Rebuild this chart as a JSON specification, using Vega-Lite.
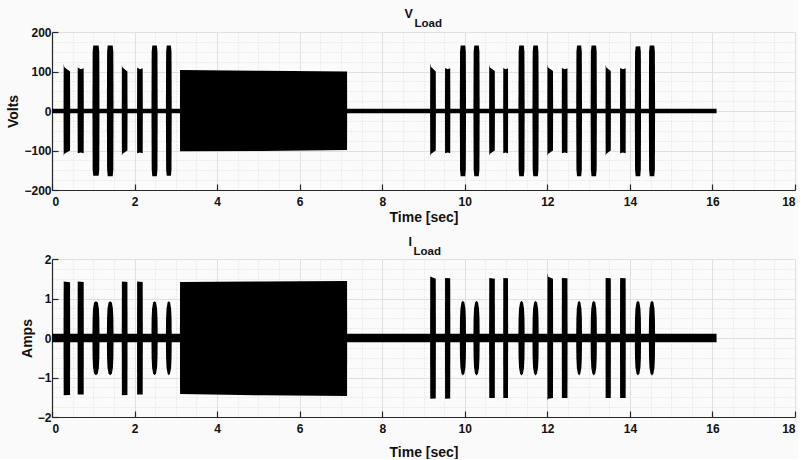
{
  "$schema": "https://vega.github.io/schema/vega-lite/v6.json",
  "background": "#fafafa",
  "padding": {"left": 6, "top": 7, "right": 2, "bottom": 0},
  "spacing": 11,
  "config": {
    "view": {"stroke": null, "fill": "#fbfbfb"},
    "font": "Liberation Sans",
    "axis": {
      "labelFont": "Liberation Sans", "labelFontWeight": "bold", "labelFontSize": 12, "labelColor": "#111111",
      "titleFont": "Liberation Sans", "titleFontWeight": "bold", "titleFontSize": 14, "titleColor": "#111111"
    }
  },
  "datasets": {
    "V": [
      {"id": "base", "t": 0, "hi": 6, "lo": -6}, {"id": "base", "t": 16.1, "hi": 6, "lo": -6},
      {"id": "blk", "t": 3.1, "hi": 6, "lo": -6}, {"id": "blk", "t": 3.102, "hi": 104, "lo": -102}, {"id": "blk", "t": 5.1, "hi": 102, "lo": -101}, {"id": "blk", "t": 7.148, "hi": 100, "lo": -99}, {"id": "blk", "t": 7.15, "hi": 6, "lo": -6},
      {"id": "b1", "t": 0.28, "hi": 6, "lo": -6}, {"id": "b1", "t": 0.283, "hi": 119, "lo": -113}, {"id": "b1", "t": 0.3, "hi": 111, "lo": -108}, {"id": "b1", "t": 0.437, "hi": 100, "lo": -100}, {"id": "b1", "t": 0.44, "hi": 6, "lo": -6},
      {"id": "b2", "t": 0.62, "hi": 6, "lo": -6}, {"id": "b2", "t": 0.623, "hi": 110, "lo": -107}, {"id": "b2", "t": 0.7, "hi": 106, "lo": -105}, {"id": "b2", "t": 0.767, "hi": 108, "lo": -107}, {"id": "b2", "t": 0.77, "hi": 6, "lo": -6},
      {"id": "b3", "t": 0.98, "hi": 6, "lo": -6}, {"id": "b3", "t": 0.985, "hi": 150, "lo": -148}, {"id": "b3", "t": 1.0, "hi": 166, "lo": -164}, {"id": "b3", "t": 1.13, "hi": 166, "lo": -164}, {"id": "b3", "t": 1.145, "hi": 150, "lo": -148}, {"id": "b3", "t": 1.15, "hi": 6, "lo": -6},
      {"id": "b4", "t": 1.33, "hi": 6, "lo": -6}, {"id": "b4", "t": 1.335, "hi": 150, "lo": -148}, {"id": "b4", "t": 1.35, "hi": 166, "lo": -165}, {"id": "b4", "t": 1.47, "hi": 166, "lo": -165}, {"id": "b4", "t": 1.485, "hi": 150, "lo": -148}, {"id": "b4", "t": 1.49, "hi": 6, "lo": -6},
      {"id": "b5", "t": 1.69, "hi": 6, "lo": -6}, {"id": "b5", "t": 1.693, "hi": 116, "lo": -113}, {"id": "b5", "t": 1.71, "hi": 110, "lo": -108}, {"id": "b5", "t": 1.827, "hi": 100, "lo": -100}, {"id": "b5", "t": 1.83, "hi": 6, "lo": -6},
      {"id": "b6", "t": 2.06, "hi": 6, "lo": -6}, {"id": "b6", "t": 2.063, "hi": 110, "lo": -107}, {"id": "b6", "t": 2.13, "hi": 106, "lo": -105}, {"id": "b6", "t": 2.197, "hi": 108, "lo": -107}, {"id": "b6", "t": 2.2, "hi": 6, "lo": -6},
      {"id": "b7", "t": 2.41, "hi": 6, "lo": -6}, {"id": "b7", "t": 2.415, "hi": 150, "lo": -148}, {"id": "b7", "t": 2.43, "hi": 166, "lo": -165}, {"id": "b7", "t": 2.54, "hi": 166, "lo": -165}, {"id": "b7", "t": 2.555, "hi": 150, "lo": -148}, {"id": "b7", "t": 2.56, "hi": 6, "lo": -6},
      {"id": "b8", "t": 2.76, "hi": 6, "lo": -6}, {"id": "b8", "t": 2.765, "hi": 150, "lo": -148}, {"id": "b8", "t": 2.78, "hi": 166, "lo": -164}, {"id": "b8", "t": 2.88, "hi": 166, "lo": -164}, {"id": "b8", "t": 2.895, "hi": 150, "lo": -148}, {"id": "b8", "t": 2.9, "hi": 6, "lo": -6},
      {"id": "b9", "t": 9.16, "hi": 6, "lo": -6}, {"id": "b9", "t": 9.163, "hi": 121, "lo": -115}, {"id": "b9", "t": 9.18, "hi": 112, "lo": -109}, {"id": "b9", "t": 9.297, "hi": 100, "lo": -100}, {"id": "b9", "t": 9.3, "hi": 6, "lo": -6},
      {"id": "b10", "t": 9.52, "hi": 6, "lo": -6}, {"id": "b10", "t": 9.523, "hi": 109, "lo": -107}, {"id": "b10", "t": 9.59, "hi": 106, "lo": -105}, {"id": "b10", "t": 9.647, "hi": 108, "lo": -107}, {"id": "b10", "t": 9.65, "hi": 6, "lo": -6},
      {"id": "b11", "t": 9.88, "hi": 6, "lo": -6}, {"id": "b11", "t": 9.885, "hi": 150, "lo": -148}, {"id": "b11", "t": 9.9, "hi": 166, "lo": -165}, {"id": "b11", "t": 10.01, "hi": 166, "lo": -165}, {"id": "b11", "t": 10.025, "hi": 150, "lo": -148}, {"id": "b11", "t": 10.03, "hi": 6, "lo": -6},
      {"id": "b12", "t": 10.21, "hi": 6, "lo": -6}, {"id": "b12", "t": 10.215, "hi": 150, "lo": -148}, {"id": "b12", "t": 10.23, "hi": 166, "lo": -165}, {"id": "b12", "t": 10.34, "hi": 166, "lo": -165}, {"id": "b12", "t": 10.355, "hi": 150, "lo": -148}, {"id": "b12", "t": 10.36, "hi": 6, "lo": -6},
      {"id": "b13", "t": 10.59, "hi": 6, "lo": -6}, {"id": "b13", "t": 10.593, "hi": 117, "lo": -113}, {"id": "b13", "t": 10.61, "hi": 110, "lo": -108}, {"id": "b13", "t": 10.727, "hi": 101, "lo": -100}, {"id": "b13", "t": 10.73, "hi": 6, "lo": -6},
      {"id": "b14", "t": 10.93, "hi": 6, "lo": -6}, {"id": "b14", "t": 10.933, "hi": 109, "lo": -107}, {"id": "b14", "t": 10.99, "hi": 106, "lo": -105}, {"id": "b14", "t": 11.047, "hi": 108, "lo": -107}, {"id": "b14", "t": 11.05, "hi": 6, "lo": -6},
      {"id": "b15", "t": 11.3, "hi": 6, "lo": -6}, {"id": "b15", "t": 11.305, "hi": 150, "lo": -148}, {"id": "b15", "t": 11.32, "hi": 166, "lo": -165}, {"id": "b15", "t": 11.43, "hi": 166, "lo": -165}, {"id": "b15", "t": 11.445, "hi": 150, "lo": -148}, {"id": "b15", "t": 11.45, "hi": 6, "lo": -6},
      {"id": "b16", "t": 11.64, "hi": 6, "lo": -6}, {"id": "b16", "t": 11.645, "hi": 150, "lo": -148}, {"id": "b16", "t": 11.66, "hi": 166, "lo": -165}, {"id": "b16", "t": 11.77, "hi": 166, "lo": -165}, {"id": "b16", "t": 11.785, "hi": 150, "lo": -148}, {"id": "b16", "t": 11.79, "hi": 6, "lo": -6},
      {"id": "b17", "t": 12.0, "hi": 6, "lo": -6}, {"id": "b17", "t": 12.003, "hi": 117, "lo": -113}, {"id": "b17", "t": 12.02, "hi": 110, "lo": -108}, {"id": "b17", "t": 12.137, "hi": 101, "lo": -100}, {"id": "b17", "t": 12.14, "hi": 6, "lo": -6},
      {"id": "b18", "t": 12.35, "hi": 6, "lo": -6}, {"id": "b18", "t": 12.353, "hi": 109, "lo": -107}, {"id": "b18", "t": 12.42, "hi": 106, "lo": -105}, {"id": "b18", "t": 12.487, "hi": 108, "lo": -107}, {"id": "b18", "t": 12.49, "hi": 6, "lo": -6},
      {"id": "b19", "t": 12.7, "hi": 6, "lo": -6}, {"id": "b19", "t": 12.705, "hi": 150, "lo": -148}, {"id": "b19", "t": 12.72, "hi": 166, "lo": -165}, {"id": "b19", "t": 12.82, "hi": 166, "lo": -165}, {"id": "b19", "t": 12.835, "hi": 150, "lo": -148}, {"id": "b19", "t": 12.84, "hi": 6, "lo": -6},
      {"id": "b20", "t": 13.05, "hi": 6, "lo": -6}, {"id": "b20", "t": 13.055, "hi": 150, "lo": -148}, {"id": "b20", "t": 13.07, "hi": 166, "lo": -165}, {"id": "b20", "t": 13.18, "hi": 166, "lo": -165}, {"id": "b20", "t": 13.195, "hi": 150, "lo": -148}, {"id": "b20", "t": 13.2, "hi": 6, "lo": -6},
      {"id": "b21", "t": 13.41, "hi": 6, "lo": -6}, {"id": "b21", "t": 13.413, "hi": 117, "lo": -113}, {"id": "b21", "t": 13.43, "hi": 110, "lo": -108}, {"id": "b21", "t": 13.537, "hi": 101, "lo": -100}, {"id": "b21", "t": 13.54, "hi": 6, "lo": -6},
      {"id": "b22", "t": 13.76, "hi": 6, "lo": -6}, {"id": "b22", "t": 13.763, "hi": 109, "lo": -107}, {"id": "b22", "t": 13.83, "hi": 106, "lo": -105}, {"id": "b22", "t": 13.897, "hi": 108, "lo": -107}, {"id": "b22", "t": 13.9, "hi": 6, "lo": -6},
      {"id": "b23", "t": 14.12, "hi": 6, "lo": -6}, {"id": "b23", "t": 14.125, "hi": 148, "lo": -148}, {"id": "b23", "t": 14.14, "hi": 163, "lo": -165}, {"id": "b23", "t": 14.25, "hi": 164, "lo": -165}, {"id": "b23", "t": 14.265, "hi": 150, "lo": -148}, {"id": "b23", "t": 14.27, "hi": 6, "lo": -6},
      {"id": "b24", "t": 14.46, "hi": 6, "lo": -6}, {"id": "b24", "t": 14.465, "hi": 150, "lo": -148}, {"id": "b24", "t": 14.48, "hi": 166, "lo": -165}, {"id": "b24", "t": 14.59, "hi": 166, "lo": -165}, {"id": "b24", "t": 14.605, "hi": 150, "lo": -148}, {"id": "b24", "t": 14.61, "hi": 6, "lo": -6}
    ],
    "I": [
      {"id": "base", "t": 0, "hi": 0.11, "lo": -0.11}, {"id": "base", "t": 16.1, "hi": 0.11, "lo": -0.11},
      {"id": "blk", "t": 3.1, "hi": 0.1, "lo": -0.1}, {"id": "blk", "t": 3.102, "hi": 1.42, "lo": -1.42}, {"id": "blk", "t": 5.1, "hi": 1.43, "lo": -1.45}, {"id": "blk", "t": 7.148, "hi": 1.44, "lo": -1.47}, {"id": "blk", "t": 7.15, "hi": 0.1, "lo": -0.1},
      {"id": "b1", "t": 0.28, "hi": 0.1, "lo": -0.1}, {"id": "b1", "t": 0.283, "hi": 1.43, "lo": -1.45}, {"id": "b1", "t": 0.437, "hi": 1.41, "lo": -1.44}, {"id": "b1", "t": 0.44, "hi": 0.1, "lo": -0.1},
      {"id": "b2", "t": 0.62, "hi": 0.1, "lo": -0.1}, {"id": "b2", "t": 0.623, "hi": 1.43, "lo": -1.43}, {"id": "b2", "t": 0.767, "hi": 1.42, "lo": -1.43}, {"id": "b2", "t": 0.77, "hi": 0.1, "lo": -0.1},
      {"id": "b3", "t": 0.98, "hi": 0.1, "lo": -0.1}, {"id": "b3", "t": 0.984, "hi": 0.5, "lo": -0.5}, {"id": "b3", "t": 0.995, "hi": 0.75, "lo": -0.75}, {"id": "b3", "t": 1.02, "hi": 0.9, "lo": -0.9}, {"id": "b3", "t": 1.065, "hi": 0.93, "lo": -0.94}, {"id": "b3", "t": 1.11, "hi": 0.9, "lo": -0.9}, {"id": "b3", "t": 1.135, "hi": 0.75, "lo": -0.75}, {"id": "b3", "t": 1.146, "hi": 0.5, "lo": -0.5}, {"id": "b3", "t": 1.15, "hi": 0.1, "lo": -0.1},
      {"id": "b4", "t": 1.33, "hi": 0.1, "lo": -0.1}, {"id": "b4", "t": 1.334, "hi": 0.5, "lo": -0.5}, {"id": "b4", "t": 1.345, "hi": 0.75, "lo": -0.75}, {"id": "b4", "t": 1.37, "hi": 0.9, "lo": -0.9}, {"id": "b4", "t": 1.41, "hi": 0.93, "lo": -0.94}, {"id": "b4", "t": 1.45, "hi": 0.9, "lo": -0.9}, {"id": "b4", "t": 1.475, "hi": 0.75, "lo": -0.75}, {"id": "b4", "t": 1.486, "hi": 0.5, "lo": -0.5}, {"id": "b4", "t": 1.49, "hi": 0.1, "lo": -0.1},
      {"id": "b5", "t": 1.69, "hi": 0.1, "lo": -0.1}, {"id": "b5", "t": 1.693, "hi": 1.43, "lo": -1.45}, {"id": "b5", "t": 1.827, "hi": 1.42, "lo": -1.44}, {"id": "b5", "t": 1.83, "hi": 0.1, "lo": -0.1},
      {"id": "b6", "t": 2.06, "hi": 0.1, "lo": -0.1}, {"id": "b6", "t": 2.063, "hi": 1.43, "lo": -1.43}, {"id": "b6", "t": 2.197, "hi": 1.42, "lo": -1.43}, {"id": "b6", "t": 2.2, "hi": 0.1, "lo": -0.1},
      {"id": "b7", "t": 2.41, "hi": 0.1, "lo": -0.1}, {"id": "b7", "t": 2.414, "hi": 0.5, "lo": -0.5}, {"id": "b7", "t": 2.425, "hi": 0.75, "lo": -0.75}, {"id": "b7", "t": 2.45, "hi": 0.9, "lo": -0.9}, {"id": "b7", "t": 2.485, "hi": 0.93, "lo": -0.94}, {"id": "b7", "t": 2.52, "hi": 0.9, "lo": -0.9}, {"id": "b7", "t": 2.545, "hi": 0.75, "lo": -0.75}, {"id": "b7", "t": 2.556, "hi": 0.5, "lo": -0.5}, {"id": "b7", "t": 2.56, "hi": 0.1, "lo": -0.1},
      {"id": "b8", "t": 2.76, "hi": 0.1, "lo": -0.1}, {"id": "b8", "t": 2.764, "hi": 0.5, "lo": -0.5}, {"id": "b8", "t": 2.775, "hi": 0.75, "lo": -0.75}, {"id": "b8", "t": 2.8, "hi": 0.9, "lo": -0.9}, {"id": "b8", "t": 2.83, "hi": 0.93, "lo": -0.94}, {"id": "b8", "t": 2.86, "hi": 0.9, "lo": -0.9}, {"id": "b8", "t": 2.885, "hi": 0.75, "lo": -0.75}, {"id": "b8", "t": 2.896, "hi": 0.5, "lo": -0.5}, {"id": "b8", "t": 2.9, "hi": 0.1, "lo": -0.1},
      {"id": "b9", "t": 9.16, "hi": 0.1, "lo": -0.1}, {"id": "b9", "t": 9.163, "hi": 1.56, "lo": -1.54}, {"id": "b9", "t": 9.297, "hi": 1.5, "lo": -1.53}, {"id": "b9", "t": 9.3, "hi": 0.1, "lo": -0.1},
      {"id": "b10", "t": 9.52, "hi": 0.1, "lo": -0.1}, {"id": "b10", "t": 9.523, "hi": 1.52, "lo": -1.54}, {"id": "b10", "t": 9.647, "hi": 1.51, "lo": -1.53}, {"id": "b10", "t": 9.65, "hi": 0.1, "lo": -0.1},
      {"id": "b11", "t": 9.88, "hi": 0.1, "lo": -0.1}, {"id": "b11", "t": 9.884, "hi": 0.5, "lo": -0.5}, {"id": "b11", "t": 9.895, "hi": 0.75, "lo": -0.75}, {"id": "b11", "t": 9.92, "hi": 0.9, "lo": -0.9}, {"id": "b11", "t": 9.955, "hi": 0.94, "lo": -0.95}, {"id": "b11", "t": 9.99, "hi": 0.9, "lo": -0.9}, {"id": "b11", "t": 10.015, "hi": 0.75, "lo": -0.75}, {"id": "b11", "t": 10.026, "hi": 0.5, "lo": -0.5}, {"id": "b11", "t": 10.03, "hi": 0.1, "lo": -0.1},
      {"id": "b12", "t": 10.21, "hi": 0.1, "lo": -0.1}, {"id": "b12", "t": 10.214, "hi": 0.5, "lo": -0.5}, {"id": "b12", "t": 10.225, "hi": 0.75, "lo": -0.75}, {"id": "b12", "t": 10.25, "hi": 0.9, "lo": -0.9}, {"id": "b12", "t": 10.285, "hi": 0.94, "lo": -0.95}, {"id": "b12", "t": 10.32, "hi": 0.9, "lo": -0.9}, {"id": "b12", "t": 10.345, "hi": 0.75, "lo": -0.75}, {"id": "b12", "t": 10.356, "hi": 0.5, "lo": -0.5}, {"id": "b12", "t": 10.36, "hi": 0.1, "lo": -0.1},
      {"id": "b13", "t": 10.59, "hi": 0.1, "lo": -0.1}, {"id": "b13", "t": 10.593, "hi": 1.52, "lo": -1.52}, {"id": "b13", "t": 10.727, "hi": 1.5, "lo": -1.52}, {"id": "b13", "t": 10.73, "hi": 0.1, "lo": -0.1},
      {"id": "b14", "t": 10.93, "hi": 0.1, "lo": -0.1}, {"id": "b14", "t": 10.933, "hi": 1.52, "lo": -1.52}, {"id": "b14", "t": 11.047, "hi": 1.51, "lo": -1.52}, {"id": "b14", "t": 11.05, "hi": 0.1, "lo": -0.1},
      {"id": "b15", "t": 11.3, "hi": 0.1, "lo": -0.1}, {"id": "b15", "t": 11.304, "hi": 0.5, "lo": -0.5}, {"id": "b15", "t": 11.315, "hi": 0.75, "lo": -0.75}, {"id": "b15", "t": 11.34, "hi": 0.9, "lo": -0.9}, {"id": "b15", "t": 11.375, "hi": 0.94, "lo": -0.95}, {"id": "b15", "t": 11.41, "hi": 0.9, "lo": -0.9}, {"id": "b15", "t": 11.435, "hi": 0.75, "lo": -0.75}, {"id": "b15", "t": 11.446, "hi": 0.5, "lo": -0.5}, {"id": "b15", "t": 11.45, "hi": 0.1, "lo": -0.1},
      {"id": "b16", "t": 11.64, "hi": 0.1, "lo": -0.1}, {"id": "b16", "t": 11.644, "hi": 0.5, "lo": -0.5}, {"id": "b16", "t": 11.655, "hi": 0.75, "lo": -0.75}, {"id": "b16", "t": 11.68, "hi": 0.9, "lo": -0.9}, {"id": "b16", "t": 11.715, "hi": 0.94, "lo": -0.95}, {"id": "b16", "t": 11.75, "hi": 0.9, "lo": -0.9}, {"id": "b16", "t": 11.775, "hi": 0.75, "lo": -0.75}, {"id": "b16", "t": 11.786, "hi": 0.5, "lo": -0.5}, {"id": "b16", "t": 11.79, "hi": 0.1, "lo": -0.1},
      {"id": "b17", "t": 12.0, "hi": 0.1, "lo": -0.1}, {"id": "b17", "t": 12.003, "hi": 1.65, "lo": -1.57}, {"id": "b17", "t": 12.02, "hi": 1.55, "lo": -1.54}, {"id": "b17", "t": 12.137, "hi": 1.5, "lo": -1.52}, {"id": "b17", "t": 12.14, "hi": 0.1, "lo": -0.1},
      {"id": "b18", "t": 12.35, "hi": 0.1, "lo": -0.1}, {"id": "b18", "t": 12.353, "hi": 1.52, "lo": -1.52}, {"id": "b18", "t": 12.487, "hi": 1.51, "lo": -1.52}, {"id": "b18", "t": 12.49, "hi": 0.1, "lo": -0.1},
      {"id": "b19", "t": 12.7, "hi": 0.1, "lo": -0.1}, {"id": "b19", "t": 12.704, "hi": 0.5, "lo": -0.5}, {"id": "b19", "t": 12.715, "hi": 0.75, "lo": -0.75}, {"id": "b19", "t": 12.74, "hi": 0.9, "lo": -0.9}, {"id": "b19", "t": 12.77, "hi": 0.94, "lo": -0.95}, {"id": "b19", "t": 12.8, "hi": 0.9, "lo": -0.9}, {"id": "b19", "t": 12.825, "hi": 0.75, "lo": -0.75}, {"id": "b19", "t": 12.836, "hi": 0.5, "lo": -0.5}, {"id": "b19", "t": 12.84, "hi": 0.1, "lo": -0.1},
      {"id": "b20", "t": 13.05, "hi": 0.1, "lo": -0.1}, {"id": "b20", "t": 13.054, "hi": 0.5, "lo": -0.5}, {"id": "b20", "t": 13.065, "hi": 0.75, "lo": -0.75}, {"id": "b20", "t": 13.09, "hi": 0.9, "lo": -0.9}, {"id": "b20", "t": 13.125, "hi": 0.94, "lo": -0.95}, {"id": "b20", "t": 13.16, "hi": 0.9, "lo": -0.9}, {"id": "b20", "t": 13.185, "hi": 0.75, "lo": -0.75}, {"id": "b20", "t": 13.196, "hi": 0.5, "lo": -0.5}, {"id": "b20", "t": 13.2, "hi": 0.1, "lo": -0.1},
      {"id": "b21", "t": 13.41, "hi": 0.1, "lo": -0.1}, {"id": "b21", "t": 13.413, "hi": 1.52, "lo": -1.52}, {"id": "b21", "t": 13.537, "hi": 1.51, "lo": -1.52}, {"id": "b21", "t": 13.54, "hi": 0.1, "lo": -0.1},
      {"id": "b22", "t": 13.76, "hi": 0.1, "lo": -0.1}, {"id": "b22", "t": 13.763, "hi": 1.52, "lo": -1.52}, {"id": "b22", "t": 13.897, "hi": 1.51, "lo": -1.52}, {"id": "b22", "t": 13.9, "hi": 0.1, "lo": -0.1},
      {"id": "b23", "t": 14.12, "hi": 0.1, "lo": -0.1}, {"id": "b23", "t": 14.124, "hi": 0.5, "lo": -0.5}, {"id": "b23", "t": 14.135, "hi": 0.75, "lo": -0.75}, {"id": "b23", "t": 14.16, "hi": 0.9, "lo": -0.9}, {"id": "b23", "t": 14.195, "hi": 0.94, "lo": -0.95}, {"id": "b23", "t": 14.23, "hi": 0.9, "lo": -0.9}, {"id": "b23", "t": 14.255, "hi": 0.75, "lo": -0.75}, {"id": "b23", "t": 14.266, "hi": 0.5, "lo": -0.5}, {"id": "b23", "t": 14.27, "hi": 0.1, "lo": -0.1},
      {"id": "b24", "t": 14.46, "hi": 0.1, "lo": -0.1}, {"id": "b24", "t": 14.464, "hi": 0.5, "lo": -0.5}, {"id": "b24", "t": 14.475, "hi": 0.75, "lo": -0.75}, {"id": "b24", "t": 14.5, "hi": 0.9, "lo": -0.9}, {"id": "b24", "t": 14.535, "hi": 0.94, "lo": -0.95}, {"id": "b24", "t": 14.57, "hi": 0.9, "lo": -0.9}, {"id": "b24", "t": 14.595, "hi": 0.75, "lo": -0.75}, {"id": "b24", "t": 14.606, "hi": 0.5, "lo": -0.5}, {"id": "b24", "t": 14.61, "hi": 0.1, "lo": -0.1}
    ]
  },
  "vconcat": [
    {
      "width": 743, "height": 158,
      "data": {"name": "V"},
      "title": {"text": "V", "anchor": "middle", "align": "left", "dx": -19, "offset": -3,
        "font": "Liberation Sans", "fontSize": 12.5, "fontWeight": "bold", "color": "#111111"},
      "layer": [
        {
          "mark": {"type": "area", "color": "black", "opacity": 1},
          "transform": [{"filter": "datum.id == 'base'"}],
          "encoding": {
            "x": {"field": "t", "type": "quantitative", "scale": {"domain": [0, 18], "nice": false, "zero": false},
              "axis": {"orient": "top", "values": [0.5, 1, 1.5, 2.5, 3, 3.5, 4.5, 5, 5.5, 6.5, 7, 7.5, 8.5, 9, 9.5, 10.5, 11, 11.5, 12.5, 13, 13.5, 14.5, 15, 15.5, 16.5, 17, 17.5],
                "grid": true, "gridDash": [1, 2], "gridColor": "#d6d6d6", "gridWidth": 0.8, "domain": false, "ticks": false, "labels": false,
                "title": "Load", "titleX": 362, "titleY": -6, "titleAlign": "left", "titleAnchor": null, "titleBaseline": "alphabetic", "titleFontSize": 11.5, "titlePadding": 0}},
            "y": {"field": "hi", "type": "quantitative", "scale": {"domain": [-200, 200], "nice": false},
              "axis": {"orient": "right", "values": [-175, -150, -125, -75, -50, -25, 25, 50, 75, 125, 150, 175],
                "grid": true, "gridDash": [1, 2], "gridColor": "#d6d6d6", "gridWidth": 0.8, "domain": false, "ticks": false, "labels": false, "title": null}},
            "y2": {"field": "lo"},
            "detail": {"field": "id"}
          }
        },
        {
          "mark": {"type": "area", "color": "black", "opacity": 1},
          "transform": [{"filter": "datum.id != 'base'"}],
          "encoding": {
            "x": {"field": "t", "type": "quantitative",
              "axis": {"orient": "bottom", "values": [0, 2, 4, 6, 8, 10, 12, 14, 16, 18], "grid": true, "gridColor": "#e0e0e0", "gridWidth": 1,
                "domainColor": "#262626", "domainWidth": 1.2, "tickColor": "#262626", "tickSize": -6, "tickWidth": 1.2, "labelPadding": 12, "title": "Time [sec]", "titlePadding": 3}},
            "y": {"field": "hi", "type": "quantitative",
              "axis": {"orient": "left", "values": [-200, -100, 0, 100, 200], "grid": true, "gridColor": "#e0e0e0", "gridWidth": 1,
                "domainColor": "#262626", "domainWidth": 1.2, "tickColor": "#262626", "tickSize": -6, "tickWidth": 1.2, "labelPadding": 7, "title": "Volts", "titlePadding": 3}},
            "y2": {"field": "lo"},
            "detail": {"field": "id"}
          }
        }
      ],
      "resolve": {"axis": {"x": "independent", "y": "independent"}}
    },
    {
      "width": 743, "height": 158,
      "data": {"name": "I"},
      "title": {"text": "I", "anchor": "middle", "align": "left", "dx": -15, "offset": -3,
        "font": "Liberation Sans", "fontSize": 12.5, "fontWeight": "bold", "color": "#111111"},
      "layer": [
        {
          "mark": {"type": "area", "color": "black", "opacity": 1},
          "transform": [{"filter": "datum.id == 'base'"}],
          "encoding": {
            "x": {"field": "t", "type": "quantitative", "scale": {"domain": [0, 18], "nice": false, "zero": false},
              "axis": {"orient": "top", "values": [0.5, 1, 1.5, 2.5, 3, 3.5, 4.5, 5, 5.5, 6.5, 7, 7.5, 8.5, 9, 9.5, 10.5, 11, 11.5, 12.5, 13, 13.5, 14.5, 15, 15.5, 16.5, 17, 17.5],
                "grid": true, "gridDash": [1, 2], "gridColor": "#d6d6d6", "gridWidth": 0.8, "domain": false, "ticks": false, "labels": false,
                "title": "Load", "titleX": 361, "titleY": -5, "titleAlign": "left", "titleAnchor": null, "titleBaseline": "alphabetic", "titleFontSize": 11.5, "titlePadding": 0}},
            "y": {"field": "hi", "type": "quantitative", "scale": {"domain": [-2, 2], "nice": false},
              "axis": {"orient": "right", "values": [-1.75, -1.5, -1.25, -0.75, -0.5, -0.25, 0.25, 0.5, 0.75, 1.25, 1.5, 1.75],
                "grid": true, "gridDash": [1, 2], "gridColor": "#d6d6d6", "gridWidth": 0.8, "domain": false, "ticks": false, "labels": false, "title": null}},
            "y2": {"field": "lo"},
            "detail": {"field": "id"}
          }
        },
        {
          "mark": {"type": "area", "color": "black", "opacity": 1},
          "transform": [{"filter": "datum.id != 'base'"}],
          "encoding": {
            "x": {"field": "t", "type": "quantitative",
              "axis": {"orient": "bottom", "values": [0, 2, 4, 6, 8, 10, 12, 14, 16, 18], "grid": true, "gridColor": "#e0e0e0", "gridWidth": 1,
                "domainColor": "#262626", "domainWidth": 1.2, "tickColor": "#262626", "tickSize": -6, "tickWidth": 1.2, "labelPadding": 12, "title": "Time [sec]", "titlePadding": 11}},
            "y": {"field": "hi", "type": "quantitative",
              "axis": {"orient": "left", "values": [-2, -1, 0, 1, 2], "grid": true, "gridColor": "#e0e0e0", "gridWidth": 1,
                "domainColor": "#262626", "domainWidth": 1.2, "tickColor": "#262626", "tickSize": -6, "tickWidth": 1.2, "labelPadding": 7, "title": "Amps", "titlePadding": 3}},
            "y2": {"field": "lo"},
            "detail": {"field": "id"}
          }
        }
      ],
      "resolve": {"axis": {"x": "independent", "y": "independent"}}
    }
  ]
}
